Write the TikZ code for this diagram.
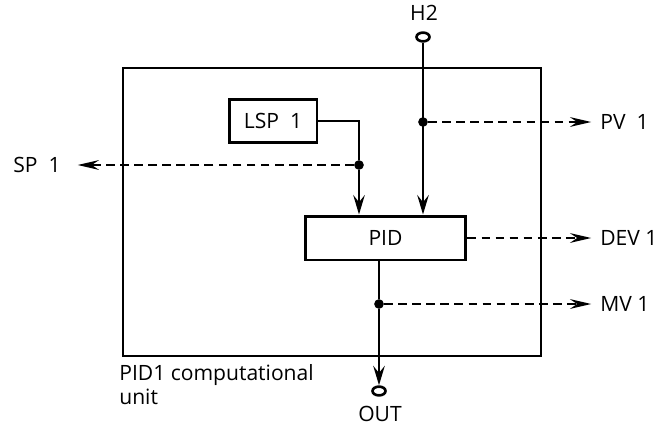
\documentclass[tikz,border=0pt]{standalone}
\usepackage{fontspec}
\setmainfont{Open Sans}
\usetikzlibrary{arrows.meta, positioning, shapes.geometric}

\tikzset{
  blk/.style={draw, line width=1.7pt, inner sep=0pt},
  sig/.style={line width=1.7pt, -{Stealth[length=11pt, width=6.5pt, inset=4pt]}},
  tap/.style={line width=1.5pt, dash pattern=on 5pt off 3pt, -{Stealth[length=12pt, width=5.5pt, inset=4pt]}},
  term/.style={draw, ellipse, line width=1.5pt, minimum width=7.4pt, minimum height=5pt, inner sep=0pt},
  jdot/.style={circle, fill, minimum size=5.5pt, inner sep=0pt},
  lbl/.style={font=\fontsize{12}{13.5}\selectfont, inner sep=0pt},
}

\begin{document}
\begin{tikzpicture}[x=0.02cm, y=-0.02cm]
\useasboundingbox (0,0) rectangle (656,426);

% computational unit frame
\draw[line width=1.7pt] (123,68) rectangle (541,356);
\node[lbl, anchor=north west, align=left] (unit) at (119,364) {PID1 computational\\unit};

% blocks
\node[blk, minimum width=1.76cm, minimum height=0.86cm, lbl] (lsp) at (273,121) {LSP~~1};
\node[blk, minimum width=3.22cm, minimum height=0.88cm, lbl] (pid) at (385.5,238) {PID};

% terminals
\node[lbl] (h2lbl) at (424,13) {H2};
\node[term] (h2) at (423,37) {};
\node[term] (out) at (379,391) {};
\node[lbl] (outlbl) at (380,414) {OUT};

% branch points
\node[jdot] (pvtap) at (423,122) {};
\node[jdot] (sptap) at (359,165) {};
\node[jdot] (mvtap) at (379,304) {};

% outputs
\node[lbl, anchor=west] (pv) at (600,122) {PV~~1};
\node[lbl, anchor=west] (dev) at (600,238) {DEV 1};
\node[lbl, anchor=west] (mv) at (600,304) {MV 1};
\node[lbl, anchor=east] (sp) at (61,165) {SP~~1};

% signal lines
\draw[sig] (h2) -- (h2 |- pid.north);
\draw[line width=1.7pt] (lsp.east) -| (sptap);
\draw[sig] (sptap) -- (sptap |- pid.north);
\draw[line width=1.7pt] (pid.south -| mvtap) -- (mvtap);
\draw[sig] (mvtap) -- (out);

\draw[tap] (pvtap) -- ([xshift=-5pt]pv.west);
\draw[tap] (pid.east) -- ([xshift=-5pt]dev.west);
\draw[tap] (mvtap) -- ([xshift=-5pt]mv.west);
\draw[tap] (sptap) -- ([xshift=9.5pt]sp.east);
\end{tikzpicture}
\end{document}
